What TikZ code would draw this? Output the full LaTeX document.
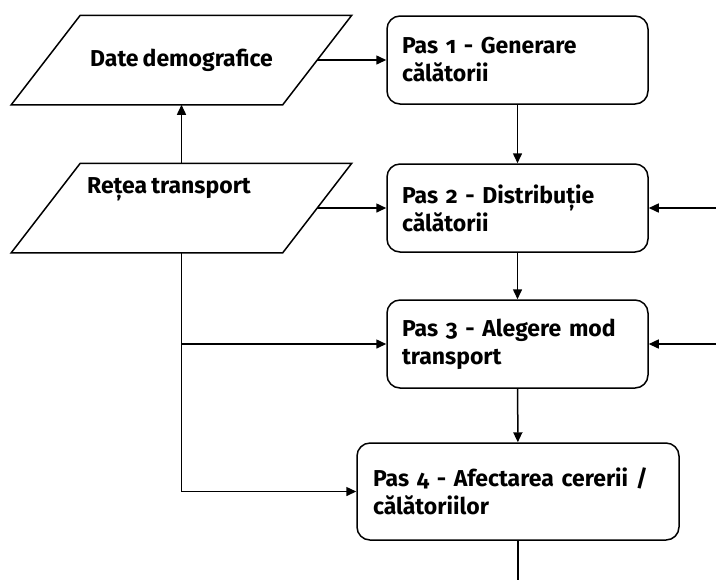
\documentclass[tikz,border=0pt]{standalone}
\usepackage{fontspec}
\setmainfont{Fira Sans}[Numbers=OldStyle,WordSpace=0.75]
\usetikzlibrary{arrows.meta}
\tikzset{
  data/.style={minimum width=135pt,minimum height=44pt,inner sep=1pt},
  pas/.style={draw,rounded corners=6.5pt,minimum height=44pt,align=left,
    inner xsep=7.5pt,text width=115.5pt},
  arr/.style={-{Triangle[length=5pt,width=4.5pt]}}
}
% contur paralelogram in jurul unui nod
\newcommand{\paralelogram}[1]{%
  \draw ([xshift=17.25pt]#1.north west) -- ([xshift=17.25pt]#1.north east)
    -- ([xshift=-17.25pt]#1.south east) -- ([xshift=-17.25pt]#1.south west) -- cycle;}
\begin{document}
\begin{tikzpicture}[x=0.5pt,y=-0.5pt,line width=0.75pt,font=\bfseries\fontsize{11.5}{14}\selectfont]
  \useasboundingbox (0,0) rectangle (716,580);
  % date de intrare
  \node[data] (date) at (181.5,60) {Date demografice};
  \node[data] (retea) at (181.5,208) {};
  \node (reteatext) at (169,189) {Rețea transport};
  \paralelogram{date}
  \paralelogram{retea}

  % cei patru pasi
  \node[pas] (pas1) at (517.5,60) {Pas 1 - Generare\\călătorii};
  \node[pas] (pas2) at (517.5,208) {Pas 2 - Distribuție\\călătorii};
  \node[pas] (pas3) at (517.5,344) {Pas 3 - Alegere mod\\transport};
  \node[pas,minimum height=48.5pt,inner xsep=8pt,text width=145pt] (pas4)
    at (518,491.5) {Pas 4 - Afectarea cererii /\\călătoriilor};

  \coordinate (in2) at (716,208);
  \coordinate (in3) at (716,344);
  \coordinate (out4) at (518,580);

  \draw[arr] (retea.north) -- (date.south);
  \draw[arr] (date.east) -- (pas1.west);
  \draw[arr] (retea.east) -- (pas2.west);
  \draw[arr] (retea.south) |- (pas4.west);
  \draw[arr] (retea.south |- pas3.west) -- (pas3.west);
  \draw[arr] (pas1) -- (pas2);
  \draw[arr] (pas2) -- (pas3);
  \draw[arr] (pas3) -- (pas4);
  \draw[arr] (in2) -- (pas2.east);
  \draw[arr] (in3) -- (pas3.east);
  \draw (pas4) -- (out4);
\end{tikzpicture}
\end{document}
